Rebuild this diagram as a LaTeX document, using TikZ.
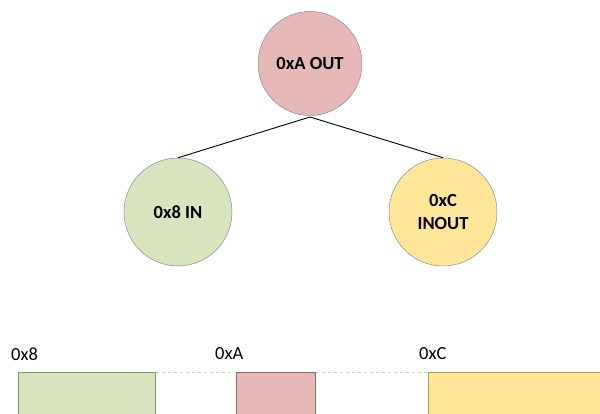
\documentclass[tikz,border=0pt]{standalone}
\usepackage{fontspec}
\setmainfont{Carlito}
\definecolor{outfill}{HTML}{E6B8B7}
\definecolor{infill}{HTML}{D7E4BD}
\definecolor{inoutfill}{HTML}{FFE699}
\definecolor{outline}{HTML}{8C8C8C}
\definecolor{outbar}{HTML}{8E6B6A}
\definecolor{inbar}{HTML}{8A9278}
\definecolor{inoutbar}{HTML}{B09A58}
\begin{document}
\begin{tikzpicture}[x=1pt,y=-1pt,
  endpoint/.style={circle,draw=outline,line width=0.5pt,minimum size=#1,inner sep=0pt,
    font=\fontsize{18.5}{22.5}\selectfont\bfseries,align=center},
  link/.style={line width=0.9pt,black},
  addr/.style={font=\fontsize{18.5}{22}\selectfont,anchor=west,inner sep=0pt},
  gap/.style={draw=black!20,dashed,line width=0.8pt,dash pattern=on 3pt off 3pt}]
\useasboundingbox (0,0) rectangle (600,414);
% endpoint tree
\node[endpoint=104pt,fill=outfill] (out) at (310,63.5) {0xA OUT};
\node[endpoint=108pt,fill=infill] (in) at (178,212) {0x8 IN};
\node[endpoint=108pt,fill=inoutfill] (inout) at (443,212) {0xC\\INOUT};
\coordinate (apex) at (310,117);
\draw[link] (in.north) -- (apex) -- (inout.north);
% address bar
\fill[infill] (18,372) rectangle (155,414);
\fill[outfill] (236,372) rectangle (315,414);
\fill[inoutfill] (428,372) rectangle (600,414);
\draw[inbar,line width=0.9pt] (18,414) -- (18,372) -- (155,372) -- (155,414);
\draw[outbar,line width=0.9pt] (236,414) -- (236,372) -- (315,372) -- (315,414);
\draw[inoutbar,line width=0.9pt] (428,414) -- (428,372) -- (600,372);
\draw[gap] (156,372) -- (235,372);
\draw[gap] (316,372) -- (427,372);
\node[addr] (a8) at (11,354) {0x8};
\node[addr] (aA) at (215,354) {0xA};
\node[addr] (aC) at (419,354) {0xC};
\end{tikzpicture}
\end{document}
